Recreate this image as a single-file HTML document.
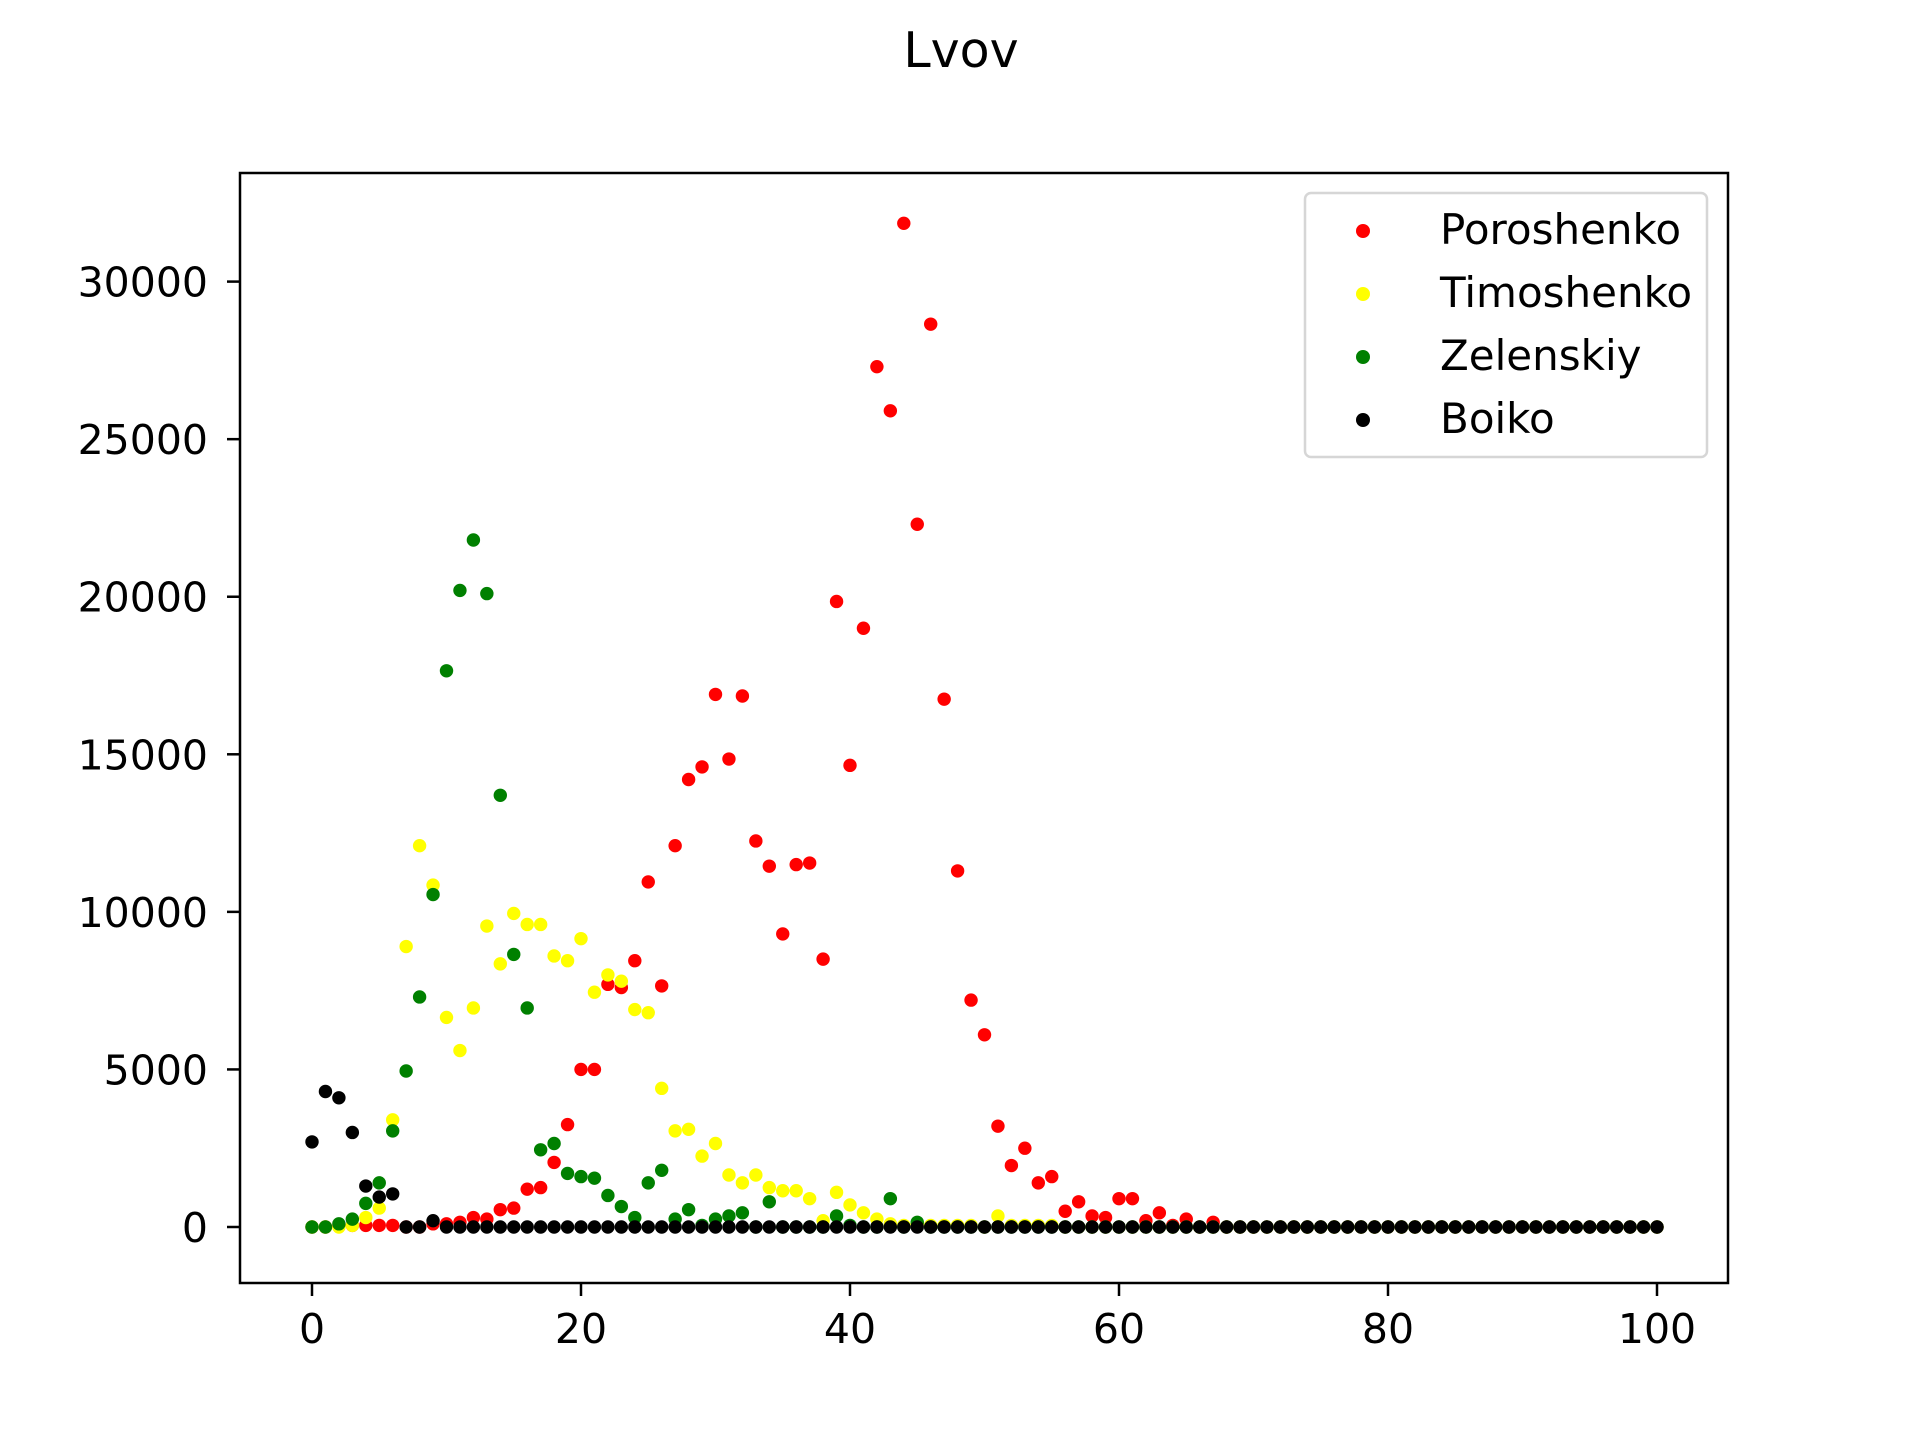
<!DOCTYPE html>
<html><head><meta charset="utf-8"><style>
html,body{margin:0;padding:0;background:#fff;}
svg text{font-family:"DejaVu Sans","Liberation Sans",sans-serif;}
</style></head><body>
<svg id="chart" width="1920" height="1440" viewBox="0 0 1920 1440" xmlns="http://www.w3.org/2000/svg">
<rect width="1920" height="1440" fill="#fff"/>
<text x="961" y="67" font-size="49" text-anchor="middle">Lvov</text>
<g id="marks"></g>
<rect x="240" y="173" width="1488" height="1110" fill="none" stroke="#000" stroke-width="2.5"/>
<g id="ticks"></g>
<g>
<rect x="1305" y="193" width="402" height="264" rx="6" fill="#fff" fill-opacity="0.8" stroke="#d6d6d6" stroke-width="2.5"/>
<g id="legend-items"></g>
</g>
</svg>
<script>
const seriesNames=["Poroshenko","Timoshenko","Zelenskiy","Boiko"];
const seriesColors=["#ff0000","#ffff00","#008000","#000000"];
const xTicks=[0,20,40,60,80,100];
const yTicks=[0,5000,10000,15000,20000,25000,30000];
const poroshenko=[0,0,30,50,50,50,50,0,0,100,100,150,300,250,550,600,1200,1250,2050,3250,5000,5000,7700,7600,8450,10950,7650,12100,14200,14600,16900,14850,16850,12250,11450,9300,11500,11550,8500,19850,14650,19000,27300,25900,31850,22300,28650,16750,11300,7200,6100,3200,1950,2500,1400,1600,500,800,350,300,900,900,200,450,50,250,0,150,0,0,0,0,0,0,0,0,0,0,0,0,0,0,0,0,0,0,0,0,0,0,0,0,0,0,0,0,0,0,0,0,0];
const timoshenko=[0,0,0,50,300,600,3400,8900,12100,10850,6650,5600,6950,9550,8350,9950,9600,9600,8600,8450,9150,7450,8000,7800,6900,6800,4400,3050,3100,2250,2650,1650,1400,1650,1250,1150,1150,900,200,1100,700,450,250,100,50,100,50,50,50,50,0,350,50,50,50,50,0,0,0,0,0,0,0,0,0,0,0,0,0,0,0,0,0,0,0,0,0,0,0,0,0,0,0,0,0,0,0,0,0,0,0,0,0,0,0,0,0,0,0,0,0];
const zelenskiy=[0,0,100,250,750,1400,3050,4950,7300,10550,17650,20200,21800,20100,13700,8650,6950,2450,2650,1700,1600,1550,1000,650,300,1400,1800,250,550,50,250,350,450,0,800,0,0,0,0,350,50,0,0,900,0,150,0,0,0,0,0,0,0,0,0,0,0,0,0,0,0,0,0,0,0,0,0,0,0,0,0,0,0,0,0,0,0,0,0,0,0,0,0,0,0,0,0,0,0,0,0,0,0,0,0,0,0,0,0,0,0];
const boiko=[2700,4300,4100,3000,1300,950,1050,0,0,200,0,0,0,0,0,0,0,0,0,0,0,0,0,0,0,0,0,0,0,0,0,0,0,0,0,0,0,0,0,0,0,0,0,0,0,0,0,0,0,0,0,0,0,0,0,0,0,0,0,0,0,0,0,0,0,0,0,0,0,0,0,0,0,0,0,0,0,0,0,0,0,0,0,0,0,0,0,0,0,0,0,0,0,0,0,0,0,0,0,0,0];
const allSeries=[poroshenko,timoshenko,zelenskiy,boiko];
const NS="http://www.w3.org/2000/svg";
function xs(v){return 312+(v)*(1657-312)/100;}
function ys(v){return 1227-v*(1227-281.6)/30000;}
function mk(tag,attrs){const e=document.createElementNS(NS,tag);for(const k in attrs)e.setAttribute(k,attrs[k]);return e;}
const marks=document.getElementById('marks');
allSeries.forEach((arr,si)=>{
  const g=mk('g',{});
  
  
  arr.forEach((v,i)=>{
    const c=mk('circle',{cx:xs(i),cy:ys(v),r:6.7,fill:seriesColors[si]});
    
    
    g.appendChild(c);
  });
  marks.appendChild(g);
});
const ticks=document.getElementById('ticks');
xTicks.forEach(t=>{
  const x=xs(t);
  const l=mk('line',{x1:x,x2:x,y1:1283,y2:1296,stroke:'#000','stroke-width':2.5});
  
  
  ticks.appendChild(l);
  const tx=mk('text',{x:x,y:1343,'font-size':41,'text-anchor':'middle'});
  
  
  tx.textContent=t;ticks.appendChild(tx);
});
yTicks.forEach(t=>{
  const y=ys(t);
  const l=mk('line',{x1:227,x2:240,y1:y,y2:y,stroke:'#000','stroke-width':2.5});
  
  
  ticks.appendChild(l);
  const tx=mk('text',{x:208,y:y+15,'font-size':41,'text-anchor':'end'});
  
  
  tx.textContent=t;ticks.appendChild(tx);
});
const li=document.getElementById('legend-items');
seriesNames.forEach((n,i)=>{
  const y=231+i*63;
  const c=mk('circle',{cx:1363,cy:y,r:7,fill:seriesColors[i]});
  
  
  li.appendChild(c);
  const t=mk('text',{x:1440,y:y+13,'font-size':42});
  
  
  t.textContent=n;li.appendChild(t);
});
</script>
</body></html>
